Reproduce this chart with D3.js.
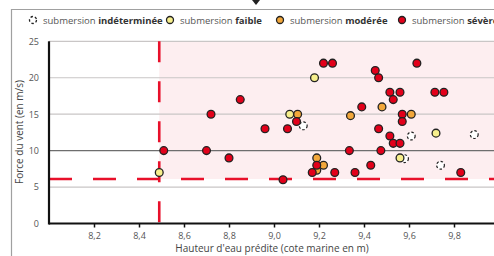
<!DOCTYPE html>
<html>
<head>
<meta charset="utf-8">
<script src="https://cdn.jsdelivr.net/npm/d3@7"></script>
<style>
  body { margin: 0; background: #fff; }
  svg { display: block; font-family: "Open Sans", sans-serif; }
</style>
</head>
<body>
<div class="chart"></div>
<script>
// data: [hauteur d'eau (m), vent (m/s)]
var severe = [
  [8.51,10],[8.70,10],[8.72,15],[8.80,9],[8.85,17],[8.96,13],[9.04,6],[9.06,13],
  [9.10,14],[9.17,7],[9.19,8],[9.22,22],[9.26,22],[9.27,7],[9.335,10],[9.36,7],
  [9.39,16],[9.43,8],[9.45,21],[9.465,20],[9.465,13],[9.475,10],[9.515,18],[9.515,12],
  [9.53,17],[9.53,11],[9.56,18],[9.56,11],[9.57,15],[9.57,14],[9.635,22],[9.715,18],
  [9.755,18],[9.83,7]
];
var moderee = [[9.105,15],[9.19,9],[9.19,7.3],[9.22,8],[9.34,14.8],[9.48,16],[9.61,15]];
var faible = [[8.49,7],[9.07,15],[9.18,20],[9.56,9],[9.72,12.4]];
var indeterminee = [[9.13,13.4],[9.58,8.9],[9.61,12],[9.74,8],[9.89,12.2]];

var xTicks = [8.2,8.4,8.6,8.8,9.0,9.2,9.4,9.6,9.8];
var yTicks = [0,5,10,15,20,25];
var seuilHauteur = 8.49, seuilVent = 6.1;

var legendItems = [
  {label:"indéterminée", fill:"#fff", dash:true},
  {label:"faible", fill:"#f7ef8c"},
  {label:"modérée", fill:"#f2a73a"},
  {label:"sévère", fill:"#e2001a"}
];

var w = 494, h = 256;
var svg = d3.select(".chart").append("svg").attr("width", w).attr("height", h);

var x = d3.scaleLinear().domain([8,10]).range([49,499]);
var y = d3.scaleLinear().domain([0,25]).range([223.5,41.3]);

// frame
svg.append("path").attr("d","M11.5,256V9.5H494").attr("fill","none").attr("stroke","#a0a0a0").attr("stroke-width",1.2);
svg.append("path").attr("d","M252,0h8l-4,5z").attr("fill","#222");

// pink zone
svg.append("rect")
   .attr("x", x(seuilHauteur)).attr("y", y(25))
   .attr("width", x(10)-x(seuilHauteur)).attr("height", y(seuilVent)-y(25))
   .attr("fill","#fdeef0");

// grid
svg.selectAll(".grid").data(yTicks.slice(1)).enter().append("line")
   .attr("x1", x(8)).attr("x2", x(10))
   .attr("y1", function(d){return y(d);}).attr("y2", function(d){return y(d);})
   .attr("stroke", function(d){return d==10 ? "#6e6e6e" : "#c9c6c6";})
   .attr("stroke-width", 1.2);

// dashed thresholds
svg.append("line").attr("x1",x(8)).attr("x2",x(10)).attr("y1",y(seuilVent)).attr("y2",y(seuilVent))
   .attr("stroke","#e8102a").attr("stroke-width",2.6).attr("stroke-dasharray","23,21");
svg.append("line").attr("x1",x(seuilHauteur)).attr("x2",x(seuilHauteur)).attr("y1",y(25)).attr("y2",y(0))
   .attr("stroke","#e8102a").attr("stroke-width",2.6).attr("stroke-dasharray","21,19");

// axes
var xAxis = svg.append("g").attr("transform","translate(0,"+y(0)+")")
   .call(d3.axisBottom(x).tickValues(xTicks).tickSize(4).tickPadding(5)
         .tickFormat(function(d){return d3.format(".1f")(d).replace(".",",");}));
xAxis.select(".domain").remove();
xAxis.selectAll(".tick line").attr("stroke","#111").attr("stroke-width",1.5);
xAxis.selectAll("text").attr("fill","#555").attr("font-size",9).attr("font-family","'Open Sans', sans-serif");

var yAxis = svg.append("g").attr("transform","translate("+x(8)+",0)")
   .call(d3.axisLeft(y).tickValues(yTicks).tickSize(0).tickPadding(10));
yAxis.select(".domain").remove();
yAxis.selectAll("text").attr("fill","#555").attr("font-size",9).attr("font-family","'Open Sans', sans-serif");

svg.append("line").attr("x1",x(8)).attr("x2",w).attr("y1",y(0)).attr("y2",y(0)).attr("stroke","#111").attr("stroke-width",2.2);
svg.append("line").attr("x1",x(8)).attr("x2",x(8)).attr("y1",y(25)).attr("y2",y(0)+1).attr("stroke","#111").attr("stroke-width",2.2);

// titles
svg.append("text").attr("x",272).attr("y",252).attr("text-anchor","middle")
   .attr("font-size",10).attr("fill","#444").text("Hauteur d'eau prédite (cote marine en m)");
svg.append("text").attr("transform","translate(23,132) rotate(-90)").attr("text-anchor","middle")
   .attr("font-size",10).attr("fill","#444").text("Force du vent (en m/s)");

// points
function drawPoints(data, fill, dashed) {
  svg.append("g").selectAll("circle").data(data).enter().append("circle")
     .attr("cx", function(d){return x(d[0]);})
     .attr("cy", function(d){return y(d[1]);})
     .attr("r", 3.9)
     .attr("fill", fill)
     .attr("stroke", "#222")
     .attr("stroke-width", dashed ? 1.2 : 1.3)
     .attr("stroke-dasharray", dashed ? "2.5,2" : null);
}
drawPoints(indeterminee, "#fff", true);
drawPoints(faible, "#f7ef8c");
drawPoints(moderee, "#f2a73a");
drawPoints(severe, "#e2001a");

// legend
var lx = [33, 170, 280, 402];
var lg = svg.append("g").selectAll("g").data(legendItems).enter().append("g")
   .attr("transform", function(d,i){return "translate("+lx[i]+",20)";});
lg.append("circle").attr("r",3.5)
   .attr("fill", function(d){return d.fill;})
   .attr("stroke","#222").attr("stroke-width",1.3)
   .attr("stroke-dasharray", function(d){return d.dash ? "2.5,2" : null;});
var lt = lg.append("text").attr("x",10).attr("y",3.5).attr("font-size",9.5).attr("fill","#555");
lt.append("tspan").text("submersion ");
lt.append("tspan").attr("font-weight","bold").attr("fill","#333").text(function(d){return d.label;});
</script>
</body>
</html>
